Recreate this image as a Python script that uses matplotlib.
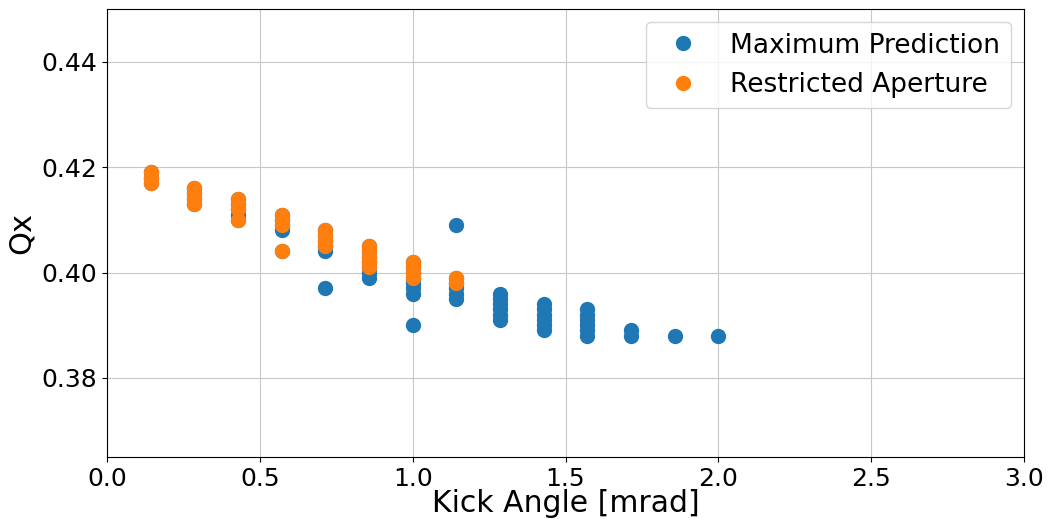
import matplotlib
matplotlib.use('Agg')
import matplotlib.pyplot as plt

# kick angle [mrad] and tune Qx for each tracked particle
max_kick = [0.143, 0.143, 0.143,
            0.286, 0.286, 0.286, 0.286,
            0.429, 0.429, 0.429, 0.429, 0.429,
            0.571, 0.571, 0.571, 0.571, 0.571,
            0.714, 0.714, 0.714, 0.714, 0.714, 0.714,
            0.857, 0.857, 0.857, 0.857, 0.857, 0.857, 0.857,
            1.0, 1.0, 1.0, 1.0, 1.0, 1.0, 1.0, 1.0,
            1.143, 1.143, 1.143, 1.143, 1.143, 1.143,
            1.286, 1.286, 1.286, 1.286, 1.286, 1.286,
            1.429, 1.429, 1.429, 1.429, 1.429, 1.429,
            1.571, 1.571, 1.571, 1.571, 1.571, 1.571,
            1.714, 1.714,
            1.857,
            2.0]
max_qx = [0.417, 0.418, 0.419,
          0.413, 0.414, 0.415, 0.416,
          0.410, 0.411, 0.412, 0.413, 0.414,
          0.404, 0.408, 0.409, 0.410, 0.411,
          0.397, 0.404, 0.405, 0.406, 0.407, 0.408,
          0.399, 0.400, 0.401, 0.402, 0.403, 0.404, 0.405,
          0.390, 0.396, 0.397, 0.398, 0.399, 0.400, 0.401, 0.402,
          0.409, 0.395, 0.396, 0.397, 0.398, 0.399,
          0.391, 0.392, 0.393, 0.394, 0.395, 0.396,
          0.389, 0.390, 0.391, 0.392, 0.393, 0.394,
          0.388, 0.389, 0.390, 0.391, 0.392, 0.393,
          0.388, 0.389,
          0.388,
          0.388]

ra_kick = [0.143, 0.143, 0.143,
           0.286, 0.286, 0.286, 0.286,
           0.429, 0.429, 0.429, 0.429,
           0.571, 0.571, 0.571, 0.571,
           0.714, 0.714, 0.714, 0.714,
           0.857, 0.857, 0.857, 0.857, 0.857,
           1.0, 1.0, 1.0, 1.0,
           1.143, 1.143]
ra_qx = [0.417, 0.418, 0.419,
         0.413, 0.414, 0.415, 0.416,
         0.410, 0.412, 0.413, 0.414,
         0.404, 0.409, 0.410, 0.411,
         0.405, 0.406, 0.407, 0.408,
         0.401, 0.402, 0.403, 0.404, 0.405,
         0.399, 0.400, 0.401, 0.402,
         0.398, 0.399]

fig = plt.figure(figsize=(10.48, 5.19), dpi=100)
ax = fig.add_axes([0.1021, 0.1195, 0.875, 0.8632])

ax.plot(max_kick, max_qx, 'o', markersize=10, color='tab:blue', label='Maximum Prediction')
ax.plot(ra_kick, ra_qx, 'o', markersize=10, color='tab:orange', label='Restricted Aperture')

ax.set_xlim(0.0, 3.0)
ax.set_ylim(0.365, 0.45)
ax.set_yticks([0.38, 0.40, 0.42, 0.44])
ax.set_xticks([0.0, 0.5, 1.0, 1.5, 2.0, 2.5, 3.0])
ax.tick_params(labelsize=18)
ax.set_xlabel('Kick Angle [mrad]', fontsize=21.5, labelpad=-1)
ax.set_ylabel('Qx', fontsize=22)
ax.grid(True, color='#c8c8c8')
ax.legend(loc='upper right', fontsize=19)

fig.savefig('out.png', dpi=100)
